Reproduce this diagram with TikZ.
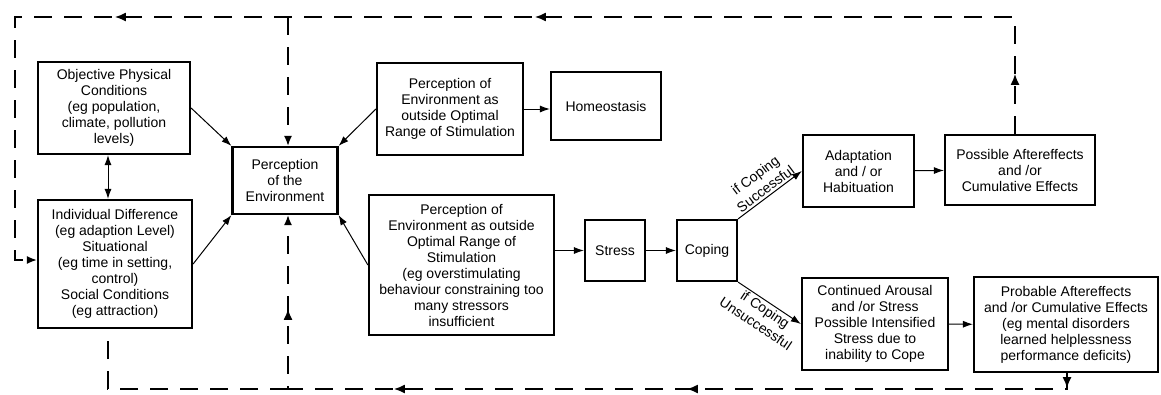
\documentclass[tikz,border=0pt]{standalone}
\usepackage{fontspec}
\setmainfont{Liberation Sans}
\usetikzlibrary{arrows.meta,decorations.markings}
\begin{document}
\begin{tikzpicture}[x=1pt,y=-1pt,
  box/.style={draw, line width=2.2pt, align=center, inner sep=1pt, font=\fontsize{14}{16}\selectfont},
  conn/.style={line width=1pt, -{Latex[length=10pt,width=7pt]}},
  dashline/.style={line width=1.6pt, dash pattern=on 18pt off 12pt},
  tipp/.style={-{Latex[length=10pt,width=8pt]}},
  lbl/.style={font=\fontsize{14}{17}\selectfont, align=center, inner sep=2pt}
]
\useasboundingbox (0,0) rectangle (1161,394);
% boxes
\node[box, minimum width=152pt, minimum height=92pt] (obj) at (114,108)
  {Objective Physical\\Conditions\\(eg population,\\climate, pollution\\levels)};
\node[box, minimum width=154pt, minimum height=128pt] (ind) at (115,264)
  {Individual Difference\\(eg adaption Level)\\Situational\\(eg time in setting,\\control)\\Social Conditions\\(eg attraction)};
\node[box, minimum width=105pt, minimum height=67pt] (perc) at (285,180.5)
  {Perception\\of the\\Environment};
\node[box, minimum width=146pt, minimum height=92pt] (pt) at (450,109)
  {Perception of\\Environment as\\outside Optimal\\Range of Stimulation};
\node[box, minimum width=110pt, minimum height=68pt] (homeo) at (606,106)
  {Homeostasis};
\node[box, minimum width=185pt, minimum height=140pt] (pb) at (461.5,265)
  {Perception of\\Environment as outside\\Optimal Range of\\Stimulation\\(eg overstimulating\\behaviour constraining too\\many stressors\\insufficient};
\node[box, minimum width=60pt, minimum height=61pt] (stress) at (615,250.5) {Stress};
\node[box, minimum width=60pt, minimum height=61pt] (coping) at (707,250.5) {Coping};
\node[box, minimum width=111pt, minimum height=72pt] (adapt) at (858.5,171)
  {Adaptation\\and / or\\Habituation};
\node[box, minimum width=150pt, minimum height=70pt] (poss) at (1020,170)
  {Possible Aftereffects\\and /or\\Cumulative Effects};
\node[box, minimum width=146pt, minimum height=92pt] (cont) at (875,324)
  {Continued Arousal\\and /or Stress\\Possible Intensified\\Stress due to\\inability to Cope};
\node[box, minimum width=184pt, minimum height=95pt] (prob) at (1066,324.5)
  {Probable Aftereffects\\and /or Cumulative Effects\\(eg mental disorders\\learned helplessness\\performance deficits)};
% coordinates for the feedback loops
\coordinate (tr) at (1015,17);
\coordinate (tl) at (15,17);
\coordinate (bl) at (15,260);
\coordinate (tv) at (288,17);
\coordinate (br) at (1067,389);
\coordinate (bm) at (288,389);
\coordinate (bl2) at (108,389);
% solid connectors
\draw[conn] (obj.east) -- (perc.north west);
\draw[conn] (ind.east) -- (perc.south west);
\draw[conn] (pt.west) -- (perc.north east);
\draw[conn] (pb.west) -- (perc.south east);
\draw[conn] (pt.east) -- (pt.east -| homeo.west);
\draw[conn] (stress.west -| pb.east) -- (stress.west);
\draw[conn] (stress) -- (coping);
\draw[conn] (coping.north east) -- (adapt.west)
  node[lbl, midway, sloped, above] {if Coping\\Successful};
\draw[conn] (coping.south east) -- (cont.west)
  node[lbl, midway, sloped, below] {if Coping\\Unsuccessful};
\draw[conn] (adapt) -- (poss);
\draw[conn] (cont) -- (prob);
\draw[line width=1pt, {Latex[length=10pt,width=7pt]}-{Latex[length=10pt,width=7pt]}] (obj.south -| bl2) -- (ind.north -| bl2);
% dashed feedback loops
\draw[dashline, tipp, postaction={decorate}, decoration={markings,
    mark=at position 60pt with {\arrow{Latex[length=11pt,width=9pt]}},
    mark=at position 597pt with {\arrow{Latex[length=11pt,width=9pt]}},
    mark=at position 1017pt with {\arrow{Latex[length=11pt,width=9pt]}}}]
  (poss.north -| tr) -- (tr) -- (tl) -- (bl) -- (ind.west |- bl);
\draw[dashline, tipp] (tv) -- (perc.north -| tv);
\draw[dashline, tipp, postaction={decorate}, decoration={markings,
    mark=at position 15pt with {\arrow{Latex[length=11pt,width=9pt]}},
    mark=at position 396pt with {\arrow{Latex[length=11pt,width=9pt]}},
    mark=at position 689pt with {\arrow{Latex[length=11pt,width=9pt]}},
    mark=at position 875pt with {\arrow{Latex[length=11pt,width=9pt]}}}]
  (prob.south -| br) -- (br) -- (bm) -- (perc.south -| bm);
\draw[dashline] (bm) -- (bl2) -- (ind.south -| bl2);
\end{tikzpicture}
\end{document}
